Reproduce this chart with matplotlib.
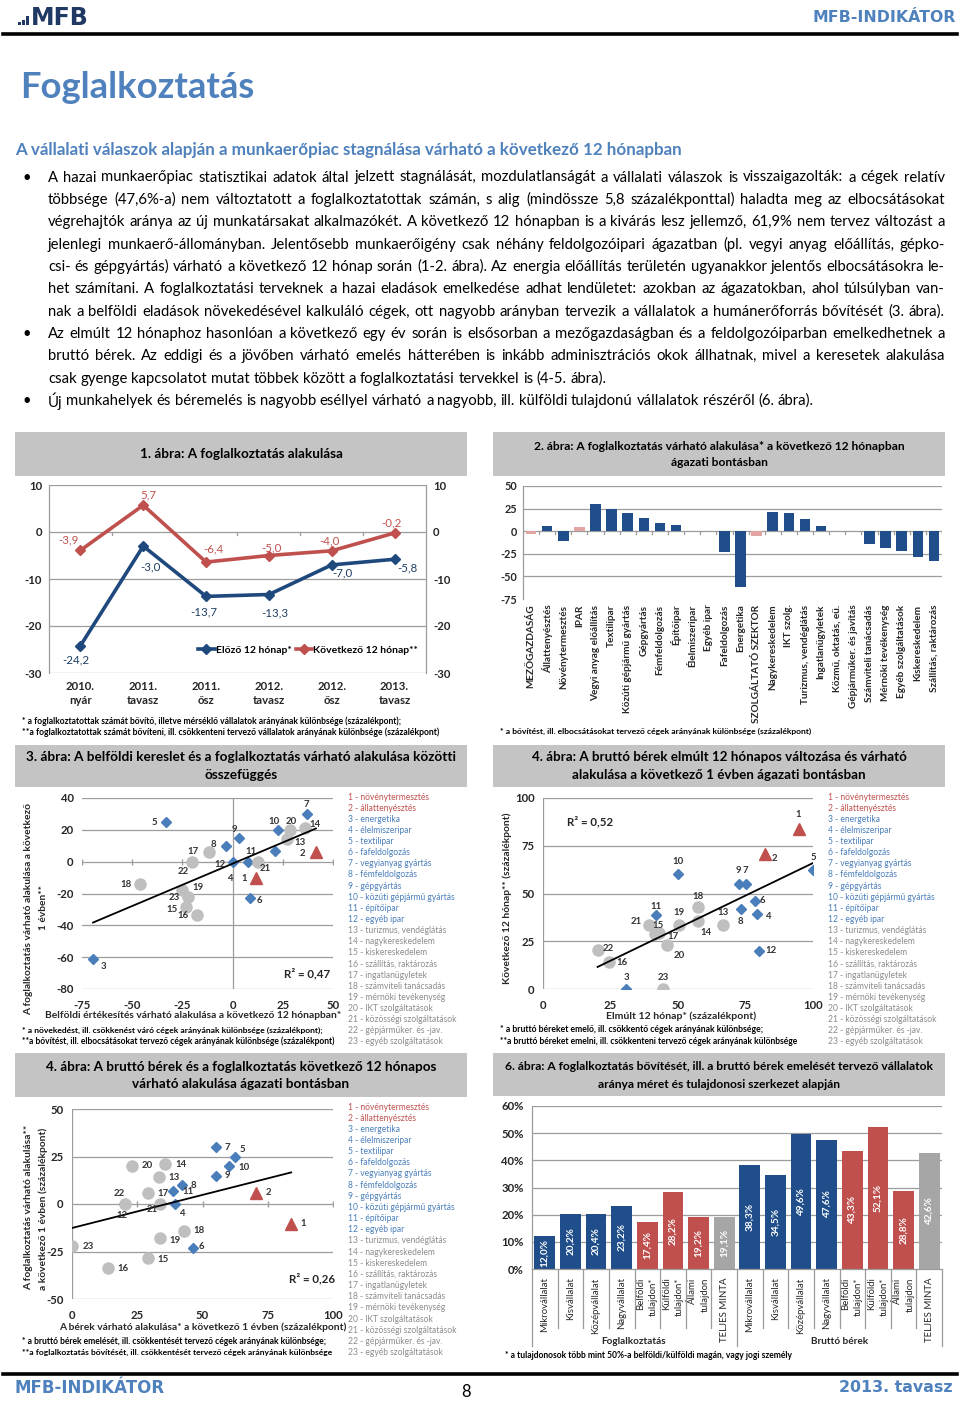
import numpy as np
import matplotlib
matplotlib.use('Agg')
import matplotlib.pyplot as plt
from matplotlib import font_manager
from matplotlib.patches import Rectangle
from matplotlib.lines import Line2D

# ---------------- data ----------------
periods = ['2010.\nnyár', '2011.\ntavasz', '2011.\nősz', '2012.\ntavasz', '2012.\nősz', '2013.\ntavasz']
emp_prev = [-24.2, -3.0, -13.7, -13.3, -7.0, -5.8]
emp_next = [-3.9, 5.7, -6.4, -5.0, -4.0, -0.2]

sectors = ['MEZŐGAZDASÁG', 'Állattenyésztés', 'Növénytermesztés', 'IPAR', 'Vegyi anyag előállítás',
           'Textilipar', 'Közúti gépjármű gyártás', 'Gépgyártás', 'Fémfeldolgozás', 'Építőipar',
           'Élelmiszeripar', 'Egyéb ipar', 'Fafeldolgozás', 'Energetika', 'SZOLGÁLTATÓ SZEKTOR',
           'Nagykereskedelem', 'IKT szolg.', 'Turizmus, vendéglátás', 'Ingatlanügyletek',
           'Közmű, oktatás, eü.', 'Gépjárműker. és javítás', 'Számviteli tanácsadás',
           'Mérnöki tevékenység', 'Egyéb szolgáltatások', 'Kiskereskedelem', 'Szállítás, raktározás']
sector_vals = [-3, 6, -11, 5, 30, 25, 20, 15, 9, 6.5, 0, 0, -22.5, -61.5, -5.5,
               21.5, 20.5, 14, 5.5, 0, 0, -14.5, -18.5, -22, -28.5, -33]
sector_total = ['MEZŐGAZDASÁG', 'IPAR', 'SZOLGÁLTATÓ SZEKTOR']

legend_items = ['1 - növénytermesztés', '2 - állattenyésztés', '3 - energetika', '4 - élelmiszeripar',
                '5 - textilipar', '6 - fafeldolgozás', '7 - vegyianyag gyártás', '8 - fémfeldolgozás',
                '9 - gépgyártás', '10 - közúti gépjármű gyártás', '11 - építőipar', '12 - egyéb ipar',
                '13 - turizmus, vendéglátás', '14 - nagykereskedelem', '15 - kiskereskedelem',
                '16 - szállítás, raktározás', '17 - ingatlanügyletek', '18 - számviteli tanácsadás',
                '19 - mérnöki tevékenység', '20 - IKT szolgáltatások', '21 - közösségi szolgáltatások',
                '22 - gépjárműker. és -jav.', '23 - egyéb szolgáltatások']
# sector 1..23
domestic_sales = [11.5, 41.5, -69.5, 7.5, -33, 8.5, 37, -3.5, 3, 22.5, 21, 0, 27, 36, -23, -17.5,
                  -12, -46, -25, 28.5, 12.5, -20, -22]
emp_sector = [-10.5, 6, -61, 0, 25, -23, 30, 10, 15, 20, 7, 0, 14, 21, -28.5, -33.5, 6, -14, -18,
              20, 0, 0, -22]
wage_past = [94.7, 82.3, 30.9, 79.3, 100, 78.4, 75, 73.2, 72.5, 50, 41.9, 79.9, 66.5, 57.3, 41.6,
             24.6, 43.1, 57.3, 50.2, 45.9, 39.1, 20.2, 44.4]
wage_next = [84, 70.5, 0, 39.5, 62.5, 46.3, 55, 42, 55, 60, 38.7, 20, 33.5, 35.5, 29, 13.9, 29.3,
             42.9, 33.6, 23, 33.6, 20.2, 0]

size_cats = ['Mikrovállalat', 'Kisvállalat', 'Középvállalat', 'Nagyvállalat', 'Belföldi\ntulajdon*',
             'Külföldi\ntulajdon*', 'Állami\ntulajdon', 'TELJES MINTA']
share_emp = [12.0, 20.2, 20.4, 23.2, 17.4, 28.2, 19.2, 19.1]
share_wage = [38.3, 34.5, 49.6, 47.6, 43.3, 52.1, 28.8, 42.6]

body = [
    ("A hazai munkaerőpiac statisztikai adatok által jelzett stagnálását, mozdulatlanságát a vállalati válaszok is visszaigazolták: a cégek relatív", True, True),
    ("többsége (47,6%-a) nem változtatott a foglalkoztatottak számán, s alig (mindössze 5,8 százalékponttal) haladta meg az elbocsátásokat", True, False),
    ("végrehajtók aránya az új munkatársakat alkalmazókét. A következő 12 hónapban is a kivárás lesz jellemző, 61,9% nem tervez változást a", True, False),
    ("jelenlegi munkaerő-állományban. Jelentősebb munkaerőigény csak néhány feldolgozóipari ágazatban (pl. vegyi anyag előállítás, gépko-", True, False),
    ("csi- és gépgyártás) várható a következő 12 hónap során (1-2. ábra). Az energia előállítás területén ugyanakkor jelentős elbocsátásokra le-", True, False),
    ("het számítani. A foglalkoztatási terveknek a hazai eladások emelkedése adhat lendületet: azokban az ágazatokban, ahol túlsúlyban van-", True, False),
    ("nak a belföldi eladások növekedésével kalkuláló cégek, ott nagyobb arányban tervezik a vállalatok a humánerőforrás bővítését (3. ábra).", True, False),
    ("Az elmúlt 12 hónaphoz hasonlóan a következő egy év során is elsősorban a mezőgazdaságban és a feldolgozóiparban emelkedhetnek a", True, True),
    ("bruttó bérek. Az eddigi és a jövőben várható emelés hátterében is inkább adminisztrációs okok állhatnak, mivel a keresetek alakulása", True, False),
    ("csak gyenge kapcsolatot mutat többek között a foglalkoztatási tervekkel is (4-5. ábra).", False, False),
    ("Új munkahelyek és béremelés is nagyobb eséllyel várható a nagyobb, ill. külföldi tulajdonú vállalatok részéről (6. ábra).", False, True),
]

# label offsets (pixels, right / up) for the sector numbers
off3 = [(-11, 0), (-13, -1), (10, -8), (-18, -17), (-12, -1), (10, -2), (-1, 9), (-12, 1), (-4, 8),
        (-4, 8), (-24, -1), (-13, -3), (13, -3), (10, 4), (-14, -2), (-14, -1), (-15, 1), (-14, -1),
        (16, 3), (1, 8), (8, -7), (-9, -10), (-14, -1)]
off4 = [(0, 14), (9, -4), (0, 12), (11, -3), (0, 12), (8, 0), (0, 13), (0, -13), (0, 13), (0, 13),
        (0, 9), (12, 0), (0, 13), (8, -11), (3, 8), (13, 0), (14, -3), (0, 11), (0, 12), (12, -10),
        (-12, 3), (11, 2), (0, 12)]
off5 = [(12, 0), (12, 0), (0, 0), (7, -9), (7, 7), (9, 1), (12, -1), (12, 0), (12, 0), (15, -1),
        (15, -1), (-2, -11), (15, 0), (16, 0), (15, -1), (15, -1), (15, -1), (15, 0), (15, -2),
        (15, 0), (-7, -6), (-5, 10), (16, -1)]

# ---------------- style ----------------
HEAD = '#4F81BD'
NAVY = '#1F497D'
BARBLUE = '#1F4E8A'
RED = '#C0504D'
PINK = '#E3A5A3'
BOXGRAY = '#C4C4C4'
GRID = '#9C9C9C'
DGRAY = '#262626'
DIA = '#4A7EBB'
CIRC = '#BFBFBF'
LEGGRAY = '#8C8C8C'

W, H = 960, 1401
fig = plt.figure(figsize=(W / 100, H / 100), dpi=100)
fig.patch.set_facecolor('white')
renderer = fig.canvas.get_renderer()

avail = {f.name for f in font_manager.fontManager.ttflist}
def pick(*names):
    for n in names:
        if n in avail:
            return n
    return 'DejaVu Sans'
CAL = pick('Lato', 'Open Sans', 'Noto Sans')
VERD = 'DejaVu Sans'
plt.rcParams['font.family'] = [CAL, 'DejaVu Sans']
plt.rcParams['axes.unicode_minus'] = False


def tw(s, size, family=CAL, weight='normal'):
    fp = font_manager.FontProperties(family=family, weight=weight, size=size)
    return renderer.get_text_width_height_descent(s, fp, ismath=False)[0]

def fit(s, target, weight='normal', family=CAL):
    return 10.0 * target / tw(s, 10.0, family, weight)

def ptext(x, y, s, size, weight='normal', color='black', ha='left', va='center', family=CAL, **kw):
    return fig.text(x / W, 1 - y / H, s, fontsize=size, fontweight=weight, color=color,
                    ha=ha, va=va, family=family, **kw)

def ftext(x, y, s, target, weight='normal', color='black', ha='left', family=CAL, **kw):
    return ptext(x, y, s, fit(s, target, weight, family), weight, color, ha, family=family, **kw)

def add_ax(x0, y0, x1, y1):
    return fig.add_axes([x0 / W, 1 - y1 / H, (x1 - x0) / W, (y1 - y0) / H])

def box(x0, y0, x1, y1, color=BOXGRAY):
    fig.patches.append(Rectangle((x0 / W, 1 - y1 / H), (x1 - x0) / W, (y1 - y0) / H,
                                 transform=fig.transFigure, facecolor=color, edgecolor='none', zorder=0))

def hline(x0, x1, y, lw, color='black'):
    fig.add_artist(Line2D([x0 / W, x1 / W], [1 - y / H, 1 - y / H], color=color, lw=lw))

def title_box(x0, y0, x1, y1, lines, ys, ref_width):
    box(x0, y0, x1, y1)
    size = fit(lines[0], ref_width, 'bold')
    for s, y in zip(lines, ys):
        ptext((x0 + x1) / 2, y, s, size, 'bold', 'black', ha='center')

def style_ticks(ax, size=7.5):
    for lab in ax.get_xticklabels() + ax.get_yticklabels():
        lab.set_fontsize(size)
        lab.set_fontweight('bold')
        lab.set_color(DGRAY)

# ---------------- header / footer ----------------
for i, (bx, bh) in enumerate([(18, 3), (22, 5), (26, 9)]):
    box(bx, 25 - bh, bx + 2.6, 25, color='#1F3864')
ftext(31, 18, 'MFB', 58, 'bold', '#1F3864', family=VERD)
ftext(956, 17, 'MFB-INDIKÁTOR', 142, 'bold', HEAD, ha='right', family=VERD)
hline(3, 957, 34, 2.6)
ftext(20, 87, 'Foglalkoztatás', 234, 'bold', HEAD)
ftext(15, 150, 'A vállalati válaszok alapján a munkaerőpiac stagnálása várható a következő 12 hónapban',
      670, 'bold', HEAD)

x_l, x_r = 48, 945
body_size = min(fit(s, x_r - x_l - 6) for s, j, b in body if j)
space_w = tw('a a', body_size) - tw('aa', body_size)
for i, (s, just, bullet) in enumerate(body):
    y = 177.5 + i * 22.35
    if bullet:
        ptext(22, y, '•', body_size, color='black')
    words = s.split()
    widths = [tw(w_, body_size) for w_ in words]
    gap = (x_r - x_l - sum(widths)) / (len(words) - 1) if just else space_w
    x = x_l
    for w_, wd in zip(words, widths):
        ptext(x, y, w_, body_size)
        x += wd + gap

hline(3, 957, 1374, 2.6)
ftext(14, 1388, 'MFB-INDIKÁTOR', 150, 'bold', HEAD, family=VERD)
ptext(466, 1392, '8', 12, color='black', ha='center')
ftext(953, 1388, '2013. tavasz', 114, 'bold', HEAD, ha='right', family=VERD)

# ---------------- chart 1 ----------------
title_box(15, 432, 467, 476, ['1. ábra: A foglalkoztatás alakulása'], [454], 203)
ax1 = add_ax(49, 485, 426, 673)
xc = np.arange(len(periods))
ax1.set_xlim(-0.5, len(periods) - 0.5)
ax1.set_ylim(-30, 10)
for g in [10, 0, -10, -20, -30]:
    ax1.axhline(g, color=GRID, lw=0.9, zorder=0)
for b in np.arange(0.5, len(periods) - 1, 1):
    ax1.plot([b, b], [0, -0.7], color=GRID, lw=0.9, zorder=0)
l_prev, = ax1.plot(xc, emp_prev, color=NAVY, lw=2.6, marker='D', ms=5, label='Előző 12 hónap*')
l_next, = ax1.plot(xc, emp_next, color=RED, lw=2.6, marker='D', ms=5, label='Következő 12 hónap**')
off_prev = [(-5, -14), (7, -21), (-2, -16), (6, -18), (11, -8), (13, -9)]
off_next = [(-12, 10), (5, 10), (7, 13), (3, 8), (-2, 10), (-3, 10)]
for xi, v, o in zip(xc, emp_prev, off_prev):
    ax1.annotate(f'{v:.1f}'.replace('.', ','), (xi, v), xytext=o, textcoords='offset pixels',
                 ha='center', va='center', fontsize=8.3, color='#1F3F66')
for xi, v, o in zip(xc, emp_next, off_next):
    ax1.annotate(f'{v:.1f}'.replace('.', ','), (xi, v), xytext=o, textcoords='offset pixels',
                 ha='center', va='center', fontsize=8.3, color=RED)
for k in ['top', 'bottom']:
    ax1.spines[k].set_visible(False)
for k in ['left', 'right']:
    ax1.spines[k].set_color(GRID)
    ax1.spines[k].set_linewidth(0.9)
ax1.set_yticks([10, 0, -10, -20, -30])
ax1.set_yticklabels(['10', '0', '-10', '-20', '-30'])
ax1.set_xticks(xc)
ax1.set_xticklabels(periods, linespacing=1.3)
ax1.tick_params(length=0, labelright=True, pad=5)
ax1.tick_params(axis='x', pad=6)
style_ticks(ax1, 8.2)
ax1.legend(handles=[l_prev, l_next], loc='center', bbox_to_anchor=(308 / W, 1 - 650 / H),
           bbox_transform=fig.transFigure, ncol=2, frameon=False, handlelength=1.6,
           handletextpad=0.1, columnspacing=0.4, prop={'weight': 'bold', 'size': 7.5})
ftext(22, 721, '* a foglalkoztatottak számát bővítő, illetve mérséklő vállalatok arányának különbsége (százalékpont);', 381, 'bold')
ftext(22, 732, '**a foglalkoztatottak számát bővíteni, ill. csökkenteni tervező vállalatok arányának különbsége (százalékpont)', 416, 'bold')

# ---------------- chart 2 ----------------
title_box(493, 432, 945, 476, ['2. ábra: A foglalkoztatás várható alakulása* a következő 12 hónapban',
                               'ágazati bontásban'], [446, 462], 370)
ax2 = add_ax(523, 486, 942, 599)
xs2 = np.arange(len(sectors))
ax2.set_xlim(-0.5, len(sectors) - 0.5)
ax2.set_ylim(-75, 50)
for g in [50, 25, 0, -25, -50]:
    ax2.axhline(g, color=GRID, lw=0.9, zorder=0)
for b in np.arange(-0.5, len(sectors), 1):
    ax2.plot([b, b], [0, -3], color=GRID, lw=0.9, zorder=0)
cols2 = [PINK if s in sector_total else BARBLUE for s in sectors]
ax2.bar(xs2, sector_vals, width=0.66, color=cols2, zorder=2)
for k in ['top', 'bottom', 'right']:
    ax2.spines[k].set_visible(False)
ax2.spines['left'].set_color(GRID)
ax2.spines['left'].set_linewidth(0.9)
ax2.set_yticks([50, 25, 0, -25, -50, -75])
ax2.set_yticklabels(['50', '25', '0', '-25', '-50', '-75'])
ax2.set_xticks(xs2)
ax2.set_xticklabels(sectors, rotation=90, va='top', ha='center')
ax2.tick_params(length=0, pad=4)
style_ticks(ax2, 7.2)
for lab in ax2.get_yticklabels():
    lab.set_fontsize(7.8)
ftext(500, 731, '* a bővítést, ill. elbocsátásokat tervező cégek arányának különbsége (százalékpont)', 312, 'bold')


# ---------------- scatter charts ----------------
def scatter_panel(ax, xs, ys, offs, grid_ys):
    xs = np.asarray(xs, float)
    ys = np.asarray(ys, float)
    for g in grid_ys:
        ax.axhline(g, color=GRID, lw=0.9, zorder=0)
    ax.plot(xs[2:12], ys[2:12], 'D', color=DIA, ms=5.5, zorder=3)
    ax.plot(xs[12:], ys[12:], 'o', color=CIRC, ms=8, zorder=4)
    ax.plot(xs[:2], ys[:2], '^', color=RED, ms=8, zorder=5)
    for i in range(len(xs)):
        ax.annotate(str(i + 1), (xs[i], ys[i]), xytext=offs[i], textcoords='offset pixels',
                    ha='center', va='center', fontsize=6.9, fontweight='bold', color='#333333', zorder=7)
    # trend fitted to the sectors shown inside the plotted range
    y0, y1 = ax.get_ylim()
    m = (ys >= y0) & (ys <= y1)
    k, b = np.polyfit(xs[m], ys[m], 1)
    xx = np.array([xs[m].min(), xs[m].max()])
    ax.plot(xx, k * xx + b, color='black', lw=1.3, zorder=6)
    for sp in ax.spines.values():
        sp.set_visible(False)
    ax.tick_params(length=0)

def legend_list(x, y0, step):
    size = fit(legend_items[9], 107)
    for i, s in enumerate(legend_items):
        c = RED if i < 2 else (DIA if i < 12 else LEGGRAY)
        ptext(x, y0 + i * step, s, size, color=c)

# chart 3
title_box(15, 745, 467, 787, ['3. ábra: A belföldi kereslet és a foglalkoztatás várható alakulása közötti',
                              'összefüggés'], [757, 775], 428)
ax3 = add_ax(82, 798, 333, 989)
ax3.set_xlim(-75, 50)
ax3.set_ylim(-80, 40)
scatter_panel(ax3, domestic_sales, emp_sector, off3, [40, 20, -20, -40, -60, -80])
ax3.axhline(0, color=GRID, lw=0.9, zorder=0)
ax3.axvline(0, color=GRID, lw=0.9, zorder=0)
ax3.plot([-75, -50, -25, 25, 50], [0] * 5, '|', color=GRID, ms=5, zorder=0)
ax3.set_xticks([-75, -50, -25, 0, 25, 50])
ax3.set_xticklabels(['-75', '-50', '-25', '0', '25', '50'])
ax3.set_yticks([40, 20, 0, -20, -40, -60, -80])
ax3.set_yticklabels(['40', '20', '0', '-20', '-40', '-60', '-80'])
ax3.tick_params(axis='x', pad=8)
ax3.tick_params(axis='y', pad=6)
style_ticks(ax3, 8.2)
ptext(307, 974, 'R² = 0,47', 8.3, 'bold', DGRAY, ha='center')
ftext(45, 1016, 'Belföldi értékesítés várható alakulása a következő 12 hónapban*', 295, 'bold', DGRAY)
s3a = 'A foglalkoztatás várható alakulása a következő'
ptext(29, 909, s3a, fit(s3a, 212, 'bold'), 'bold', DGRAY, ha='center', rotation=90)
ptext(43, 908, '1 évben**', fit(s3a, 212, 'bold'), 'bold', DGRAY, ha='center', rotation=90)
legend_list(348, 797, 11.13)
ftext(22, 1030, '* a növekedést, ill. csökkenést váró cégek arányának különbsége (százalékpont);', 301, 'bold')
ftext(22, 1041, '**a bővítést, ill. elbocsátásokat tervező cégek arányának különbsége (százalékpont)', 314, 'bold')

# chart 4
title_box(493, 745, 945, 787, ['4. ábra: A bruttó bérek elmúlt 12 hónapos változása és várható',
                               'alakulása a következő 1 évben ágazati bontásban'], [757, 775], 372)
ax4 = add_ax(543, 798, 813, 989)
ax4.set_xlim(0, 100)
ax4.set_ylim(0, 100)
scatter_panel(ax4, wage_past, wage_next, off4, [100, 75, 50, 25])
ax4.axhline(0, color=GRID, lw=0.9, zorder=0)
ax4.axvline(0, color=GRID, lw=0.9, zorder=0)
ax4.set_xticks([0, 25, 50, 75, 100])
ax4.set_xticklabels(['0', '25', '50', '75', '100'])
ax4.set_yticks([100, 75, 50, 25, 0])
ax4.set_yticklabels(['100', '75', '50', '25', '0'])
ax4.tick_params(axis='x', pad=8)
ax4.tick_params(axis='y', pad=6)
style_ticks(ax4, 8.2)
ptext(590, 822, 'R² = 0,52', 8.3, 'bold', DGRAY, ha='center')
ftext(606, 1016, 'Elmúlt 12 hónap* (százalékpont)', 149, 'bold', DGRAY)
s4y = 'Következő 12 hónap** (százalékpont)'
ptext(507, 898, s4y, fit(s4y, 171, 'bold'), 'bold', DGRAY, ha='center', rotation=90)
legend_list(828, 797, 11.13)
ftext(500, 1030, '* a bruttó béreket emelő, ill. csökkentő cégek arányának különbsége;', 266, 'bold')
ftext(500, 1041, '**a bruttó béreket emelni, ill. csökkenteni tervező cégek arányának különbsége', 300, 'bold')

# chart 5
title_box(15, 1053, 467, 1097, ['4. ábra: A bruttó bérek és a foglalkoztatás következő 12 hónapos',
                                'várható alakulása ágazati bontásban'], [1067, 1084], 390)
ax5 = add_ax(72, 1109, 333, 1299)
ax5.set_xlim(0, 100)
ax5.set_ylim(-50, 50)
scatter_panel(ax5, wage_next, emp_sector, off5, [50, 25, -25, -50])
ax5.axhline(0, color=GRID, lw=0.9, zorder=0)
ax5.axvline(0, color=GRID, lw=0.9, zorder=0)
ax5.plot([25, 50, 75, 100], [0] * 4, '|', color=GRID, ms=5, zorder=0)
ax5.set_xticks([0, 25, 50, 75, 100])
ax5.set_xticklabels(['0', '25', '50', '75', '100'])
ax5.set_yticks([50, 25, 0, -25, -50])
ax5.set_yticklabels(['50', '25', '0', '-25', '-50'])
ax5.tick_params(axis='x', pad=8)
ax5.tick_params(axis='y', pad=6)
style_ticks(ax5, 8.2)
ptext(312, 1279, 'R² = 0,26', 8.3, 'bold', DGRAY, ha='center')
ftext(59, 1327, 'A bérek várható alakulása* a következő 1 évben (százalékpont)', 286, 'bold', DGRAY)
s5a = 'A foglalkoztatás várható alakulása**'
s5b = 'a következő 1 évben (százalékpont)'
ptext(29, 1207, s5a, fit(s5a, 165, 'bold'), 'bold', DGRAY, ha='center', rotation=90)
ptext(43, 1209, s5b, fit(s5a, 165, 'bold'), 'bold', DGRAY, ha='center', rotation=90)
legend_list(348, 1107, 11.16)
ftext(22, 1341, '* a bruttó bérek emelését, ill. csökkentését tervező cégek arányának különbsége;', 307, 'bold')
ftext(22, 1352, '**a foglalkoztatás bővítését, ill. csökkentését tervező cégek arányának különbsége', 311, 'bold')

# ---------------- chart 6 ----------------
title_box(493, 1053, 945, 1096, ['6. ábra: A foglalkoztatás bővítését, ill. a bruttó bérek emelését tervező vállalatok',
                                 'aránya méret és tulajdonosi szerkezet alapján'], [1067, 1084], 430)
ax6 = add_ax(532, 1106, 942, 1269)
vals6 = share_emp + share_wage
x6 = np.arange(len(vals6))
cols6 = ([BARBLUE] * 4 + [RED] * 3 + ['#A6A6A6']) * 2
ax6.set_xlim(-0.5, len(vals6) - 0.5)
ax6.set_ylim(0, 60)
for g in range(10, 70, 10):
    ax6.axhline(g, color=GRID, lw=0.9, zorder=0)
ax6.bar(x6, vals6, width=0.81, color=cols6, zorder=2)
for xi, v in zip(x6, vals6):
    ax6.text(xi, v / 2, f'{v:.1f}%'.replace('.', ','), rotation=90, ha='center', va='center',
             color='white', fontsize=7.2, fontweight='bold', zorder=3)
for k in ['top', 'right']:
    ax6.spines[k].set_visible(False)
for k in ['left', 'bottom']:
    ax6.spines[k].set_color(GRID)
    ax6.spines[k].set_linewidth(0.9)
ax6.set_yticks(range(0, 70, 10))
ax6.set_yticklabels([f'{v}%' for v in range(0, 70, 10)])
ax6.set_xticks(x6)
ax6.set_xticklabels(size_cats * 2, rotation=90, va='top', ha='center', ma='right', linespacing=1.5)
ax6.tick_params(length=0, pad=6)
style_ticks(ax6, 8.2)
for lab in ax6.get_xticklabels():
    lab.set_fontsize(6.9)
    lab.set_fontweight('normal')
tr6 = ax6.get_xaxis_transform()
for b in np.arange(-0.5, len(vals6), 1):
    depth = 77 / 163 if b in (-0.5, 7.5, 15.5) else 59 / 163
    ax6.plot([b, b], [0, -depth], transform=tr6, clip_on=False, color=GRID, lw=0.9)
ptext(634, 1341, 'Foglalkoztatás', 7.2, 'bold', DGRAY, ha='center')
ptext(840, 1341, 'Bruttó bérek', 7.2, 'bold', DGRAY, ha='center')
ftext(505, 1356, '* a tulajdonosok több mint 50%-a belföldi/külföldi magán, vagy jogi személy', 288, 'bold')

fig.savefig('out.png', dpi=100, facecolor='white')
